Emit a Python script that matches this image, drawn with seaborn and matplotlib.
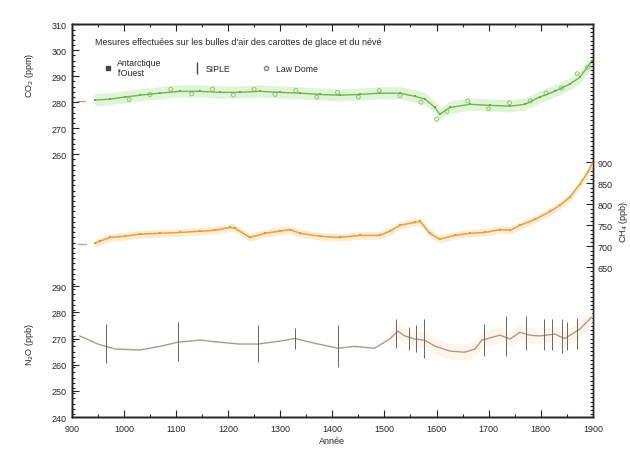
import numpy as np
import matplotlib
matplotlib.use("Agg")
import matplotlib.pyplot as plt
from matplotlib.ticker import MultipleLocator, FixedLocator
from matplotlib.lines import Line2D
import seaborn as sns

# CO2 (ppm) - carottes de glace
co2_annee = [944, 973, 1002, 1030, 1069, 1107, 1146, 1184, 1222, 1261, 1299, 1338,
             1376, 1414, 1453, 1491, 1530, 1558, 1578, 1597, 1606, 1626, 1664,
             1702, 1741, 1770, 1798, 1827, 1856, 1875, 1898]
co2_ppm = [280.8, 281.2, 282.0, 282.7, 283.5, 284.2, 284.2, 283.8, 283.8, 284.2,
           283.8, 283.5, 283.0, 282.7, 283.0, 283.5, 283.5, 282.3, 281.2, 278.0,
           275.4, 278.0, 279.2, 278.8, 278.5, 279.2, 282.0, 284.2, 287.0, 289.6,
           295.8]
# CO2 - deuxieme jeu de mesures (Law Dome)
co2_ld_annee = [1010, 1050, 1090, 1130, 1170, 1210, 1250, 1290, 1330, 1370, 1410,
                1450, 1490, 1530, 1570, 1600, 1620, 1660, 1700, 1740, 1780, 1810,
                1840, 1870, 1890]
co2_ld_ppm = [281.0, 283.0, 285.0, 283.2, 285.0, 282.8, 285.0, 283.0, 284.5, 282.0,
              283.8, 282.0, 284.5, 282.5, 280.0, 273.5, 276.5, 280.5, 277.5, 279.8,
              280.5, 283.5, 285.5, 291.0, 293.5]
co2_debut_annee = [910, 925]
co2_debut_ppm = [280.4, 280.4]

# CH4 (ppb)
ch4_annee = [944, 954, 973, 1002, 1030, 1069, 1107, 1146, 1174, 1203, 1213, 1242,
             1270, 1299, 1318, 1338, 1376, 1414, 1453, 1491, 1510, 1530, 1558,
             1568, 1587, 1606, 1635, 1664, 1693, 1722, 1741, 1760, 1789, 1818,
             1837, 1856, 1875, 1890, 1900]
ch4_ppb = [707, 712, 721, 724, 729, 731, 733, 736, 738, 745, 743, 721, 731, 736,
           740, 731, 724, 721, 726, 726, 736, 750, 757, 760, 731, 717, 726, 731,
           733, 740, 738, 750, 764, 783, 798, 817, 848, 876, 900]
ch4_debut_annee = [912, 928]
ch4_debut_ppb = [705, 705]

# N2O (ppb)
n2o_annee = [915, 950, 983, 1030, 1069, 1103, 1146, 1184, 1222, 1257, 1299, 1328,
             1366, 1411, 1443, 1481, 1510, 1526, 1539, 1558, 1577, 1597, 1626,
             1654, 1674, 1687, 1722, 1741, 1760, 1779, 1798, 1827, 1846, 1875,
             1898]
n2o_ppb = [271.0, 267.9, 266.0, 265.6, 267.0, 268.6, 269.4, 268.6, 267.9, 267.9,
           269.0, 270.0, 268.2, 266.3, 267.0, 266.3, 269.8, 272.8, 271.0, 269.8,
           269.4, 267.1, 265.2, 264.8, 266.0, 269.4, 271.3, 269.8, 272.4, 271.3,
           271.0, 271.7, 270.0, 273.6, 278.2]
# barres d'erreur N2O
n2o_err_annee = [966, 1103, 1257, 1328, 1411, 1522, 1547, 1560, 1576, 1691, 1733,
                 1772, 1806, 1822, 1841, 1851, 1870]
n2o_err_ppb = [268.0, 269.0, 268.0, 270.0, 267.0, 272.0, 270.0, 270.0, 270.0,
               269.5, 271.0, 272.0, 271.5, 271.5, 271.0, 271.0, 272.0]
n2o_err_demi = [7.5, 7.5, 7.0, 4.0, 8.0, 5.5, 4.5, 5.0, 7.5, 6.0, 7.5, 6.5, 6.0,
                6.0, 6.5, 5.5, 6.0]

sns.set_style("ticks")
plt.rcParams['font.family'] = ['Liberation Sans', 'DejaVu Sans']

vert = "#6cb84a"
orange = "#e8a040"

fig = plt.figure(figsize=(6.3, 4.52), dpi=100)
ax = fig.add_axes([0.114, 0.075, 0.827, 0.869])
ax_ch4 = ax.twinx()
ax_n2o = ax.twinx()

# CO2
ax.fill_between(co2_annee, np.array(co2_ppm) - 2.2, np.array(co2_ppm) + 2.5,
                color="#e2f4d8", lw=0)
sns.lineplot(x=co2_annee, y=co2_ppm, ax=ax, color=vert, lw=1.0)
sns.scatterplot(x=co2_ld_annee, y=co2_ld_ppm, ax=ax, marker="o", s=8,
                facecolor="none", edgecolor="#8cc870", linewidth=0.7)
sns.scatterplot(x=co2_annee, y=co2_ppm, ax=ax, color="#5aa040", marker="s", s=4,
                linewidth=0)
sns.lineplot(x=co2_debut_annee, y=co2_debut_ppm, ax=ax, color="#aaaaaa", lw=1)

# CH4
ax_ch4.fill_between(ch4_annee, np.array(ch4_ppb) - 9, np.array(ch4_ppb) + 9,
                    color="#fdebd2", lw=0)
sns.lineplot(x=ch4_annee, y=ch4_ppb, ax=ax_ch4, color=orange, lw=1.1)
sns.scatterplot(x=ch4_annee, y=ch4_ppb, ax=ax_ch4, color="#c8903a", marker="s",
                s=3, linewidth=0)
sns.lineplot(x=ch4_debut_annee, y=ch4_debut_ppb, ax=ax_ch4, color="#aaaaaa", lw=1)

# N2O
n2o_orange = [a >= 1500 for a in n2o_annee]
ax_n2o.fill_between(n2o_annee, np.array(n2o_ppb) - 3, np.array(n2o_ppb) + 3,
                    where=n2o_orange, color="#fef5ea", lw=0)
sns.lineplot(x=n2o_annee, y=n2o_ppb, ax=ax_n2o, color="#a89c8c", lw=1.0)
ax_n2o.errorbar(n2o_err_annee, n2o_err_ppb, yerr=n2o_err_demi, fmt="none",
                ecolor="#666666", elinewidth=0.7, capsize=0)

# echelles
ax.set_xlim(900, 1900)
ax.set_ylim(158.8, 310)
ax_ch4.set_ylim(293, 1229)
ax_n2o.set_ylim(240, 390)

ax.xaxis.set_major_locator(MultipleLocator(100))
ax.xaxis.set_minor_locator(MultipleLocator(50))
ax.yaxis.set_major_locator(FixedLocator([260, 270, 280, 290, 300, 310]))
ax.yaxis.set_minor_locator(MultipleLocator(2))
ax_ch4.yaxis.set_major_locator(FixedLocator([650, 700, 750, 800, 850, 900]))
ax_ch4.yaxis.set_minor_locator(MultipleLocator(10))
ax_n2o.yaxis.set_major_locator(FixedLocator([240, 250, 260, 270, 280, 290]))
ax_n2o.yaxis.set_ticks_position("left")
ax_n2o.yaxis.set_label_position("left")
ax_n2o.spines["right"].set_visible(False)

for a in (ax, ax_ch4, ax_n2o):
    a.tick_params(which="both", direction="in", labelsize=6.5, width=0.8)
    a.tick_params(which="major", length=5)
    a.tick_params(which="minor", length=2.5)
    for s in a.spines.values():
        s.set_linewidth(1)
ax.tick_params(axis="x", which="both", top=True)
ax.tick_params(axis="x", pad=5)

ax.set_xlabel("Année", fontsize=6.5, labelpad=2)
ax.set_ylabel("CO$_2$ (ppm)", fontsize=6.5)
ax.yaxis.set_label_coords(-0.068, 0.873)
ax_n2o.set_ylabel("N$_2$O (ppb)", fontsize=6.5)
ax_n2o.yaxis.set_label_coords(-0.068, 0.186)
ax_ch4.set_ylabel("CH$_4$ (ppb)", fontsize=6.5, labelpad=3)

ax.text(0.044, 0.957, "Mesures effectuées sur les bulles d'air des carottes de glace et du névé",
        transform=ax.transAxes, fontsize=6.5, va="center", ha="left")

poignees = [
    Line2D([], [], ls="none", marker="s", ms=2.5, color="#444444"),
    Line2D([], [], ls="none", marker="|", ms=9, mew=1, color="#444444"),
    Line2D([], [], ls="none", marker="o", ms=3, mfc="none", color="#888888"),
]
ax.legend(poignees, ["Antarctique\nl'Ouest", "SIPLE", "Law Dome"], ncol=3,
          loc="upper left", bbox_to_anchor=(0.045, 0.935), frameon=False,
          fontsize=6.3, handlelength=1, columnspacing=3.5, handletextpad=0.6)

fig.savefig("out.png", dpi=100)
